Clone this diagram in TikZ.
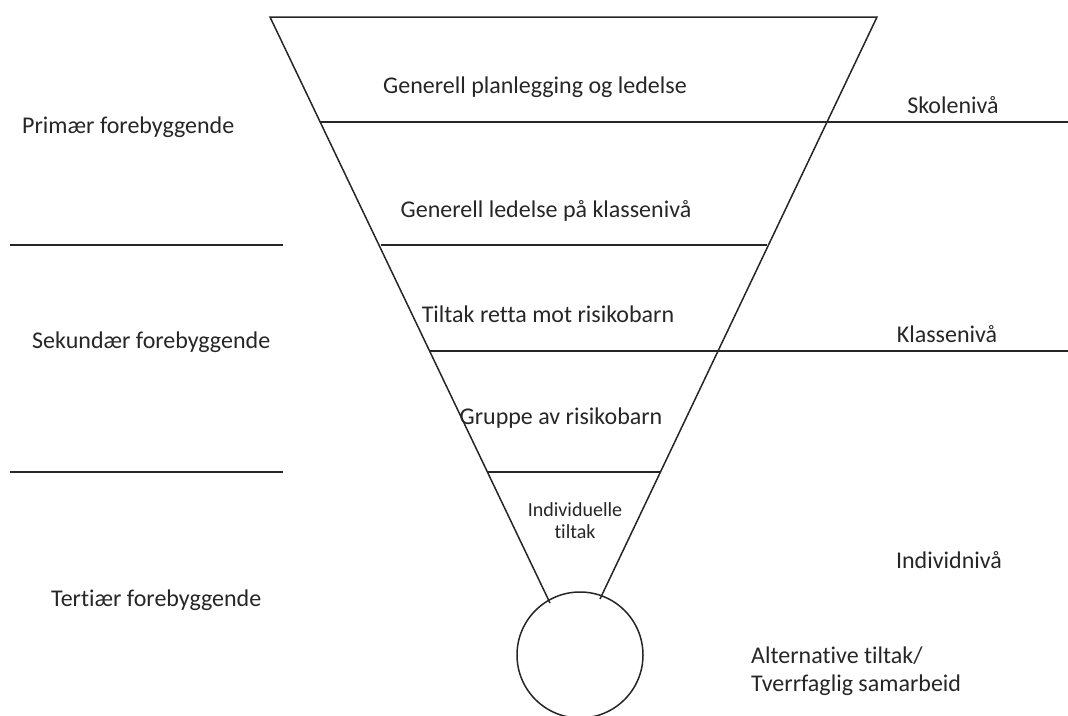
\documentclass[tikz,border=0pt]{standalone}
\usepackage{fontspec}
\setmainfont{Carlito}[Ligatures={NoCommon}]
\begin{document}
\begin{tikzpicture}[x=1pt,y=-1pt,
  ln/.style={line width=1.5pt, draw=black!85},
  lbl/.style={font=\fontsize{24}{29}\selectfont, inner sep=0pt, text=black!85},
  lbll/.style={lbl, anchor=west},
  small/.style={font=\fontsize{20}{22}\selectfont, inner sep=0pt, align=center, text=black!85}]
\useasboundingbox (0,0) rectangle (1068,715);
% funnel
\coordinate (TL) at (270,17);
\coordinate (TR) at (877,17);
\coordinate (BL) at (550,603);
\coordinate (BR) at (600,599);
\draw[ln] (BL) -- (TL) -- (TR) -- (BR);
\node[ln, circle, minimum size=126pt, inner sep=0pt] (c) at (580,655) {};
% level lines
\draw[ln] (320,122) -- (1068,122);
\draw[ln] (381,245) -- (767,245);
\draw[ln] (430,351) -- (1068,351);
\draw[ln] (487,472) -- (661,472);
\draw[ln] (10,245) -- (283,245);
\draw[ln] (10,472) -- (283,472);
% funnel texts
\node[lbl] (t1) at (535,87) {Generell planlegging og ledelse};
\node[lbl] (t2) at (546,211) {Generell ledelse på klassenivå};
\node[lbl] (t3) at (548,314) {Tiltak retta mot risikobarn};
\node[lbl] (t4) at (561,418) {Gruppe av risikobarn};
\node[small] (t5) at (575,521) {Individuelle\\tiltak};
% right texts
\node[lbl] (r1) at (953,105) {Skolenivå};
\node[lbl] (r2) at (947,334) {Klassenivå};
\node[lbl] (r3) at (949,560) {Individnivå};
\node[lbll] (r4) at (751,656) {Alternative tiltak/};
\node[lbll] (r5) at (751,685) {Tverrfaglig samarbeid};
% left texts
\node[lbll] (l1) at (22,127) {Primær forebyggende};
\node[lbll] (l2) at (32,342) {Sekundær forebyggende};
\node[lbll] (l3) at (51,600) {Tertiær forebyggende};
\end{tikzpicture}
\end{document}
